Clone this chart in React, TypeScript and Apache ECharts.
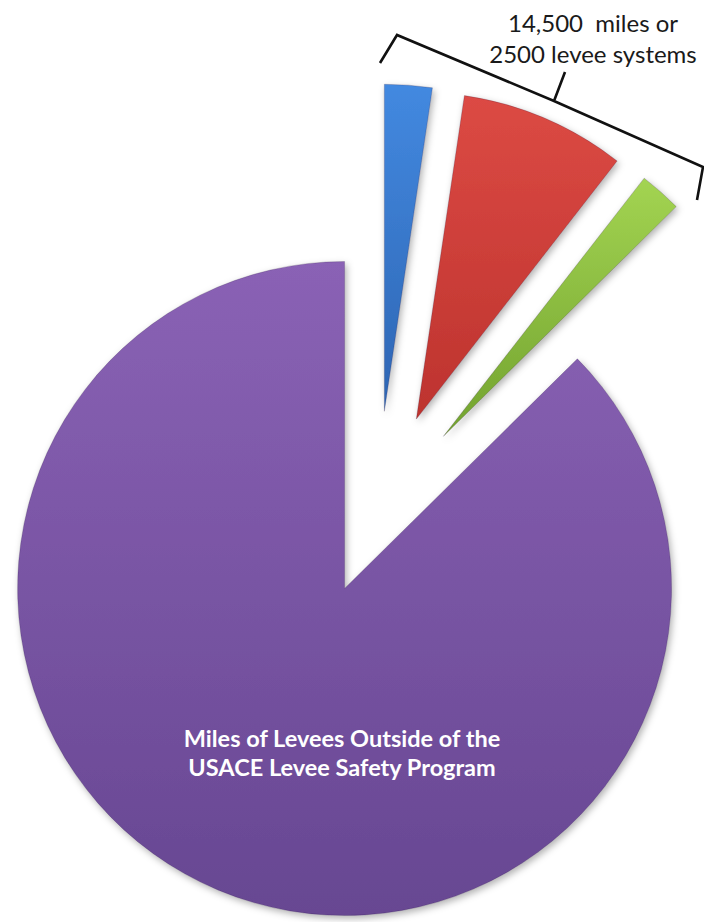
import React, { useEffect, useRef } from "react";
import * as echarts from "echarts";

const categories = [
  "USACE levees (blue)",
  "Federally authorized, locally maintained (red)",
  "Non-federal in PL 84-99 (green)",
  "Miles of Levees Outside of the USACE Levee Safety Program",
];
const values = [2700, 9400, 2400, 100500];
const colorsTop = ["#4389e0", "#dc4a44", "#a3d452", "#8a62b5"];
const colorsBottom = ["#2d65b3", "#bd332e", "#72a22e", "#674792"];
const braceLines = ["14,500  miles or", "2500 levee systems"];
const insideLabel = ["Miles of Levees Outside of the", "USACE Levee Safety Program"];

export default function App() {
  const ref = useRef<HTMLDivElement>(null);
  useEffect(() => {
    if (!ref.current) return;
    const chart = echarts.init(ref.current, null, { renderer: "svg" });
    const grad = (i: number) =>
      new echarts.graphic.LinearGradient(0, 0, 0, 1, [
        { offset: 0, color: colorsTop[i] },
        { offset: 1, color: colorsBottom[i] },
      ]);
    const makeData = (visible: (i: number) => boolean) =>
      categories.map((name, i) => ({
        name,
        value: values[i],
        selected: true,
        itemStyle: visible(i)
          ? {
              color: grad(i),
              borderColor: "rgba(40,20,60,0.35)",
              borderWidth: 0.6,
              shadowBlur: 7,
              shadowOffsetX: 2,
              shadowOffsetY: 3,
              shadowColor: "rgba(0,0,0,0.3)",
            }
          : { opacity: 0, color: "transparent", borderWidth: 0, shadowBlur: 0 },
      }));
    const common = {
      type: "pie",
      center: [377, 511],
      radius: 327,
      startAngle: 90,
      clockwise: true,
      selectedMode: "multiple",
      silent: true,
      label: { show: false },
      labelLine: { show: false },
      emphasis: { disabled: true },
    };
    const txt = (x: number, y: number, text: string, fill: string, font: string) => ({
      type: "text",
      x,
      y,
      z: 10,
      style: { text, fill, font, align: "center", verticalAlign: "middle" },
    });
    chart.setOption({
      animation: false,
      backgroundColor: "#ffffff",
      series: [
        { ...common, selectedOffset: 84, data: makeData((i) => i === 3) },
        { ...common, selectedOffset: 100, data: makeData((i) => i !== 3) },
      ],
      graphic: [
        {
          type: "polyline",
          shape: {
            points: [
              [380, 63],
              [397, 35],
              [554, 101],
              [565, 72],
              [554, 101],
              [703, 167],
              [697, 200],
            ],
          },
          style: { stroke: "#111111", lineWidth: 2.6, fill: null, lineJoin: "miter" },
          z: 10,
        },
        txt(593, 22, braceLines[0], "#1a1a1a", '24px Lato, "Open Sans", sans-serif'),
        txt(593, 53, braceLines[1], "#1a1a1a", '24px Lato, "Open Sans", sans-serif'),
        txt(342, 738, insideLabel[0], "#ffffff", 'bold 23.5px Lato, "Open Sans", sans-serif'),
        txt(342, 767, insideLabel[1], "#ffffff", 'bold 23.5px Lato, "Open Sans", sans-serif'),
      ],
    });
    return () => chart.dispose();
  }, []);
  return (
    <div
      ref={ref}
      style={{ position: "absolute", left: 0, top: 0, width: 704, height: 922 }}
    />
  );
}
